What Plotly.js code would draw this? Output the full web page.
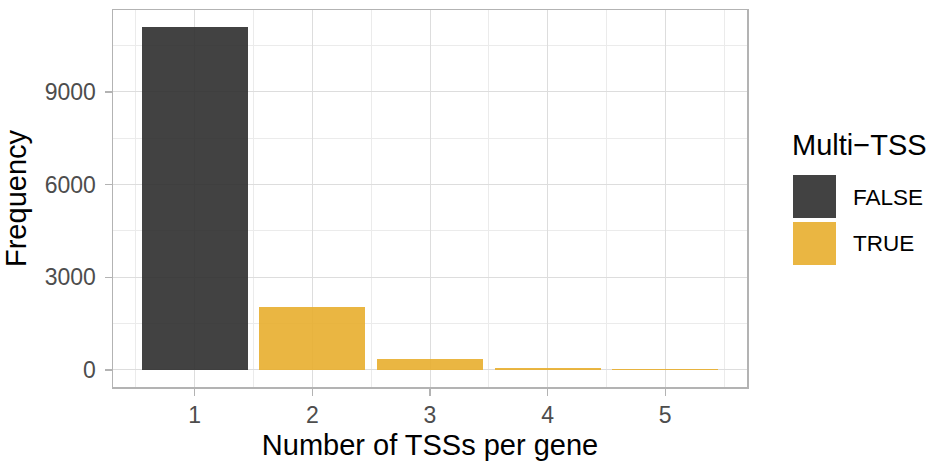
<!DOCTYPE html>
<html>
<head>
<meta charset="utf-8">
<script src="https://cdn.plot.ly/plotly-3.0.1.min.js"></script>
<style>html,body{margin:0;padding:0;background:#fff;}#chart{width:929px;height:461px;}</style>
</head>
<body>
<div id="chart"></div>
<script>
// Data
const categories = [1, 2, 3, 4, 5];
const multiTSS = [false, true, true, true, true];
const frequency = [11100, 2050, 346, 65, 32];
const groupLabels = ["FALSE", "TRUE"];
const groupColors = ["rgba(45,45,45,0.9)", "rgba(232,174,46,0.9)"];
const yTickVals = [0, 3000, 6000, 9000];
const xMinorVals = [0.5, 1.5, 2.5, 3.5, 4.5, 5.5];
const yMinorVals = [1500, 4500, 7500, 10500];

const traces = groupLabels.map((lab, gi) => {
  const xs = [], ys = [];
  categories.forEach((c, i) => {
    if (String(multiTSS[i]).toUpperCase() === lab) { xs.push(c); ys.push(frequency[i]); }
  });
  return {
    type: "bar", x: xs, y: ys, width: 0.9, name: lab,
    marker: {color: groupColors[gi], line: {width: 0}},
    showlegend: false, hoverinfo: "x+y"
  };
});

const L = 113, R = 747, T = 10, B = 387;
const W = 929, H = 461;
const px = p => (p - L) / (R - L);
const py = p => (B - p) / (B - T);

const ymax = Math.max(...frequency);
const layout = {
  width: W, height: H,
  margin: {l: L, r: W - R, t: T, b: H - B, pad: 0},
  paper_bgcolor: "#fff", plot_bgcolor: "#fff",
  font: {family: "Liberation Sans, Arial, sans-serif"},
  bargap: 0,
  xaxis: {
    range: [0.305, 5.695], tickmode: "array", tickvals: categories, ticktext: categories.map(String),
    showgrid: true, gridcolor: "#dddddd", gridwidth: 1,
    minor: {tickmode: "array", tickvals: xMinorVals, showgrid: true, gridcolor: "#ebebeb", gridwidth: 1, ticks: ""},
    zeroline: false, showline: true, mirror: true, linecolor: "#b3b3b3", linewidth: 1.5,
    ticks: "outside", ticklen: 7, tickcolor: "#b3b3b3", tickwidth: 1.3,
    tickfont: {size: 23, color: "#4d4d4d"},
    title: {text: "Number of TSSs per gene", font: {size: 29, color: "#000"}, standoff: 7}
  },
  yaxis: {
    range: [-0.05 * ymax, 1.05 * ymax], tickmode: "array", tickvals: yTickVals, ticktext: yTickVals.map(String),
    showgrid: true, gridcolor: "#dddddd", gridwidth: 1,
    minor: {tickmode: "array", tickvals: yMinorVals, showgrid: true, gridcolor: "#ebebeb", gridwidth: 1, ticks: ""},
    zeroline: false, showline: true, mirror: true, linecolor: "#b3b3b3", linewidth: 1.5,
    ticks: "outside", ticklen: 7, tickcolor: "#b3b3b3", tickwidth: 1.3,
    tickfont: {size: 23, color: "#4d4d4d"}, ticklabelstandoff: 4,
    title: {text: "Frequency", font: {size: 29, color: "#000"}, standoff: 9}
  },
  shapes: [
    {type: "rect", xref: "paper", yref: "paper", x0: px(793), x1: px(836), y0: py(175), y1: py(218),
     fillcolor: groupColors[0], line: {width: 0}},
    {type: "rect", xref: "paper", yref: "paper", x0: px(793), x1: px(836), y0: py(222), y1: py(265),
     fillcolor: groupColors[1], line: {width: 0}}
  ],
  annotations: [
    {text: "Multi\u2212TSS", xref: "paper", yref: "paper", x: px(790), y: py(145), xanchor: "left", yanchor: "middle",
     showarrow: false, font: {size: 29, color: "#000"}},
    {text: groupLabels[0], xref: "paper", yref: "paper", x: px(851), y: py(197.5), xanchor: "left", yanchor: "middle",
     showarrow: false, font: {size: 22.5, color: "#000"}},
    {text: groupLabels[1], xref: "paper", yref: "paper", x: px(851), y: py(243), xanchor: "left", yanchor: "middle",
     showarrow: false, font: {size: 22.5, color: "#000"}}
  ]
};

Plotly.newPlot("chart", traces, layout, {displayModeBar: false, staticPlot: true});
</script>
</body>
</html>
